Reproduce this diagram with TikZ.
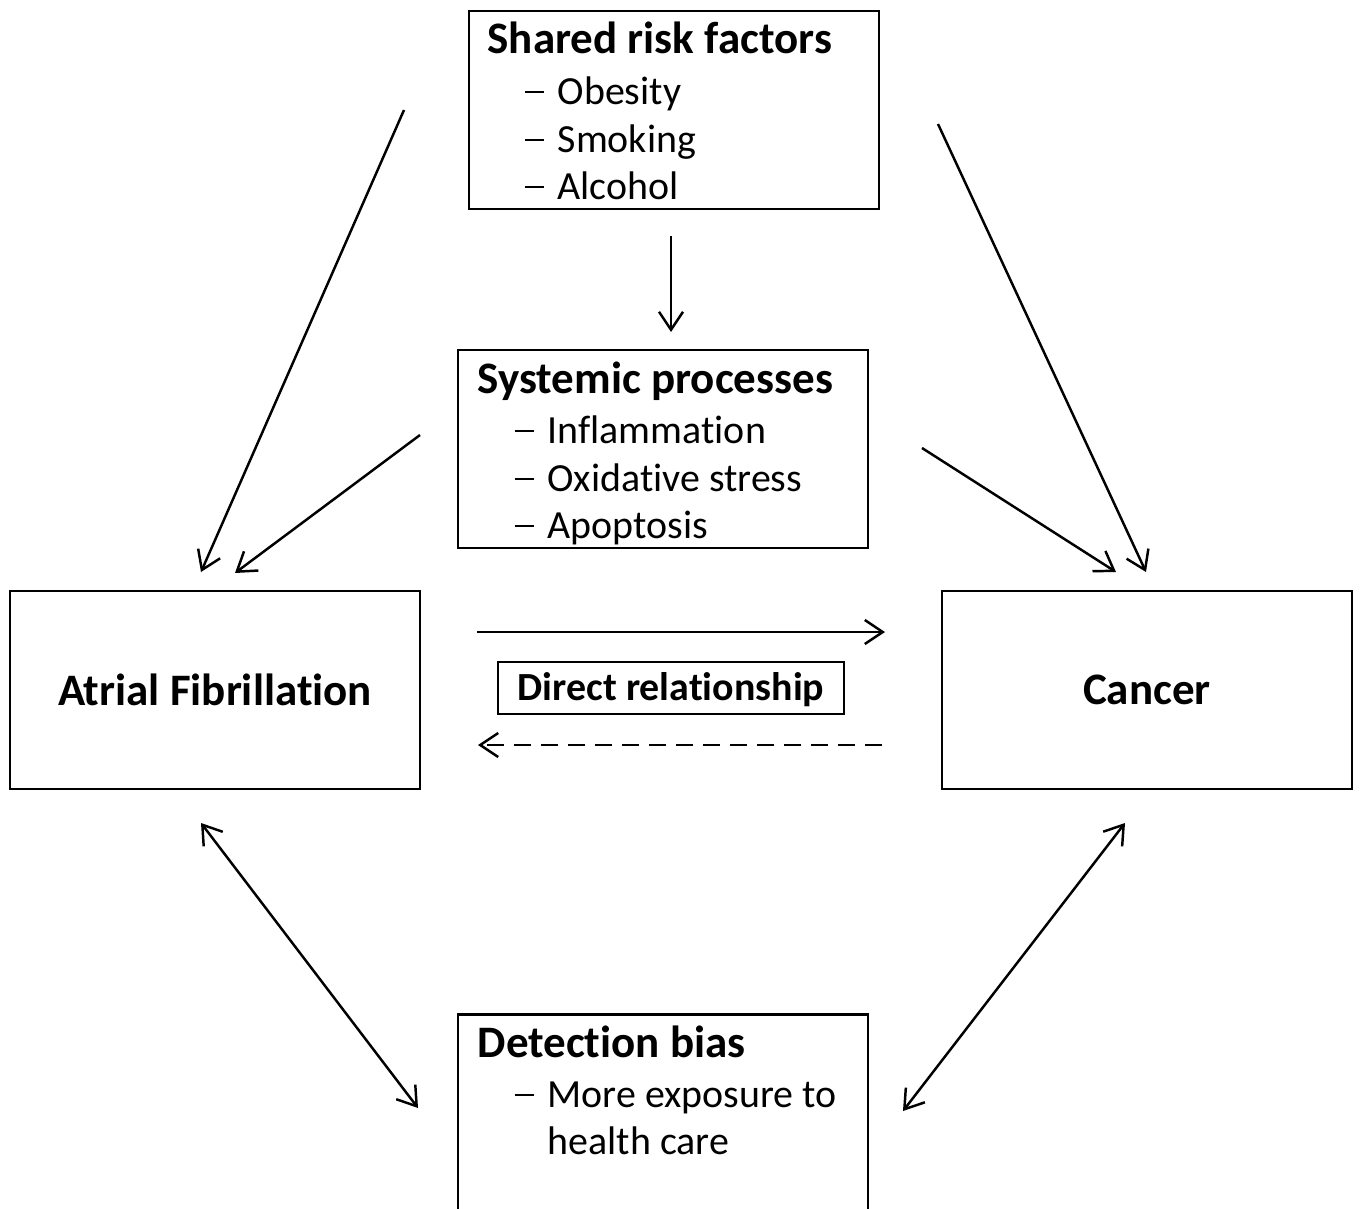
\documentclass[tikz,border=0pt]{standalone}
\usepackage{fontspec}
\setmainfont{Carlito}[Ligatures=NoCommon]
\usetikzlibrary{arrows.meta}

\tikzset{
  box/.style={draw,line width=0.7pt,rectangle,minimum width=4.1cm,minimum height=1.98cm,inner sep=0pt},
  txt/.style={anchor=base west,inner sep=0pt,font=\fontsize{11.35}{13}\selectfont},
  head/.style={font=\fontsize{12.8}{14}\selectfont\bfseries},
  arr/.style={line width=0.7pt,-{Straight Barb[length=0.18cm,width=0.24cm]}},
  dbl/.style={line width=0.7pt,{Straight Barb[length=0.18cm,width=0.24cm]}-{Straight Barb[length=0.18cm,width=0.24cm]}},
}
\newcommand{\dashitem}[1]{\makebox[0.33cm][l]{\rule[0.11cm]{0.19cm}{0.02cm}}#1}

\begin{document}
\begin{tikzpicture}[x=0.01cm,y=-0.01cm]
    \useasboundingbox (0,0) rectangle (1360,1209);
    \clip (0,0) rectangle (1360,1209);

    % boxes
    \node[box,head] (af) at (215,690) {Atrial Fibrillation};
    \node[box,head] (ca) at (1147,690) {Cancer};
    \node[box] (risk) at (674,110) {};
    \node[box] (sys) at (663,449) {};
    \node[box,minimum width=3.46cm,minimum height=0.52cm] (direct) at (671,688) {};
    \node[font=\fontsize{11.35}{13}\selectfont\bfseries,inner sep=0pt] (directT) at (671,690) {Direct relationship};
    \node[box,minimum height=2.45cm] (det) at (663,1137) {};

    % texts
    \node[txt,head] (riskT) at (487,53) {Shared risk factors};
    \node[txt] (risk1) at (524,104) {\dashitem{Obesity}};
    \node[txt] (risk2) at (524,152) {\dashitem{Smoking}};
    \node[txt] (risk3) at (524,199) {\dashitem{Alcohol}};

    \node[txt,head] (sysT) at (477,393) {Systemic processes};
    \node[txt] (sys1) at (514,443) {\dashitem{Inflammation}};
    \node[txt] (sys2) at (514,491) {\dashitem{Oxidative stress}};
    \node[txt] (sys3) at (514,538) {\dashitem{Apoptosis}};

    \node[txt,head] (detT) at (477,1057) {Detection bias};
    \node[txt] (det1) at (514,1107) {\dashitem{More exposure to}};
    \node[txt] (det2) at (547,1154) {health care};

    % arrow ends
    \coordinate (riskL) at (404,110);
    \coordinate (afTopA) at (201,572);
    \coordinate (sysL) at (420,435);
    \coordinate (afTopB) at (235,573);
    \coordinate (riskDown) at (671,236);
    \coordinate (sysTop) at (671,332);
    \coordinate (riskR) at (938,124);
    \coordinate (caTopA) at (1146,572);
    \coordinate (sysR) at (922,448);
    \coordinate (caTopB) at (1116,572);
    \coordinate (dirA) at (477,632);
    \coordinate (dirB) at (885,632);
    \coordinate (revA) at (882,745);
    \coordinate (revB) at (478,745);
    \coordinate (afBot) at (201,823);
    \coordinate (detL) at (418,1108);
    \coordinate (caBot) at (1125,823);
    \coordinate (detR) at (903,1111);

    \draw[arr] (riskL) -- (afTopA);
    \draw[arr] (sysL) -- (afTopB);
    \draw[arr] (riskDown) -- (sysTop);
    \draw[arr] (riskR) -- (caTopA);
    \draw[arr] (sysR) -- (caTopB);
    \draw[arr] (dirA) -- (dirB);
    \draw[arr,dash pattern=on 0.17cm off 0.1cm] (revA) -- (revB);
    \draw[dbl] (afBot) -- (detL);
    \draw[dbl] (caBot) -- (detR);
\end{tikzpicture}
\end{document}
